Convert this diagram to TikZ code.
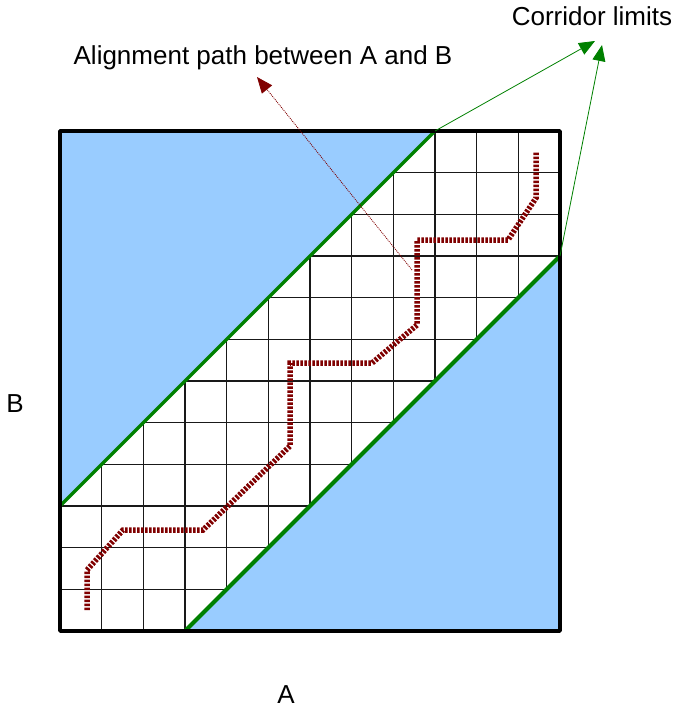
\documentclass[tikz,border=0pt]{standalone}
\usepackage{fontspec}
\setmainfont{Liberation Sans}
\usetikzlibrary{arrows.meta}
\definecolor{corrfill}{RGB}{153,204,255}
\definecolor{limgreen}{RGB}{0,128,0}
\definecolor{alpathred}{RGB}{128,0,0}
\begin{document}
\begin{tikzpicture}[x=1pt,y=-1pt,
  gridline/.style={line width=1.4pt,black!90},
  corrzone/.style={fill=corrfill},
  limline/.style={line width=3.2pt,limgreen},
  frame/.style={line width=3.6pt,black,line join=round},
  alpathline/.style={line width=5.5pt,alpathred,dash pattern=on 2.5pt off 1.5pt},
  labelarrow/.style={line width=0.8pt,-{Triangle[length=16pt,width=13pt]}},
  lbl/.style={inner sep=0pt,anchor=base,font=\fontsize{26}{30}\selectfont}]
\useasboundingbox (0,0) rectangle (675,709);
% grid
\foreach \i in {1,...,11} {
  \draw[gridline] ({60+\i*500/12},131) -- ({60+\i*500/12},631);
  \draw[gridline] (60,{131+\i*500/12}) -- (560,{131+\i*500/12});
}
% corner coordinates
\coordinate (TL) at (60,131);
\coordinate (TR) at (560,131);
\coordinate (BL) at (60,631);
\coordinate (BR) at (560,631);
\coordinate (U1) at (60,506);
\coordinate (U2) at (435,131);
\coordinate (L1) at (185,631);
\coordinate (L2) at (560,256);
% corridor zones
\fill[corrzone] (TL) -- (U1) -- (U2) -- cycle;
\fill[corrzone] (L1) -- (BR) -- (L2) -- cycle;
% corridor limit lines
\draw[limline] (U1) -- (U2);
\draw[limline,line width=4pt] (L1) -- (L2);
% frame
\draw[frame] (TL) rectangle (BR);
% alignment path
\draw[alpathline] (87,610) -- (87,570) -- (123,530) -- (203,530) -- (290,446) -- (290,363)
  -- (372,363) -- (417,325) -- (417,240) -- (508,240) -- (536,198) -- (536,152);
% labels
\node[lbl] (corrlbl) at (592,26) {Corridor limits};
\node[lbl] (alnlbl) at (263,64) {Alignment path between A and B};
\node[lbl] (blbl) at (15,412) {B};
\node[lbl] (albl) at (286,703) {A};
% arrow targets
\coordinate (G1tip) at (595,41);
\coordinate (G2tip) at (602,45);
\coordinate (Rstart) at (412,270);
\coordinate (Rtip) at (257,77);
\draw[labelarrow,limgreen] (U2) -- (G1tip);
\draw[labelarrow,limgreen] (L2) -- (G2tip);
\draw[labelarrow,alpathred,dash pattern=on 1pt off 1pt] (Rstart) -- (Rtip);
\end{tikzpicture}
\end{document}
